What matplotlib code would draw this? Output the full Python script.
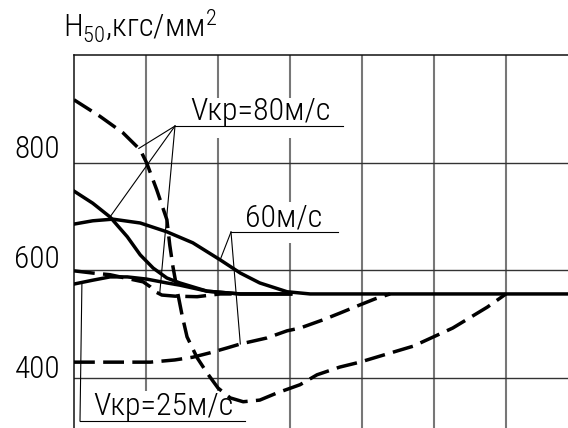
import numpy as np
import matplotlib
matplotlib.use("Agg")
import matplotlib.pyplot as plt
from matplotlib import font_manager
from matplotlib.patches import Rectangle

# Hardness H50 (kgf/mm^2) along the specimen, x in grid divisions.
# Solid and dashed curves for several critical cooling rates.

# Vkr = 80 m/s, dashed, starting high
dash80_x = [0, 0.36, 0.68, 0.92, 1.01, 1.15, 1.29, 1.33, 1.375, 1.44, 1.5, 1.57,
            1.71, 1.85, 2.0, 2.17, 2.35, 2.58, 2.82, 3.14, 3.375, 3.69, 3.97,
            4.53, 4.71, 5.26, 5.74, 6.0]
dash80_y = [884, 854, 824, 793, 769, 720, 666, 620, 580, 533, 493, 453,
            415, 387, 360, 342, 335, 338, 351, 366, 384, 398, 407,
            429, 436, 469, 507, 531]

# Vkr = 80 m/s, dashed, starting near 575
dash80b_x = [0, 0.26, 0.5, 0.71, 0.96, 1.06, 1.13, 1.22, 1.4, 1.71, 2.03, 2.19]
dash80b_y = [573, 569, 566, 560, 553, 544, 535, 529, 527, 526, 531, 531]

# Vkr = 80 m/s, solid
solid80_x = [0, 0.26, 0.5, 0.74, 0.92, 1.1, 1.29, 1.47, 1.85, 2.31, 3.01]
solid80_y = [718, 696, 671, 635, 602, 578, 560, 551, 536, 531, 531]

# Vkr = 60 m/s, solid (continues as the common plateau)
solid60_x = [0, 0.26, 0.54, 0.92, 1.29, 1.65, 2.03, 2.31, 2.58, 2.96, 3.28, 6.86]
solid60_y = [658, 664, 667, 660, 644, 624, 593, 569, 551, 535, 531, 531]

# Vkr = 60 m/s, dashed, starting near 400
dash60_x = [0, 1.06, 1.4, 1.65, 1.89, 2.13, 2.31, 2.68, 2.96, 3.14, 3.46, 3.69,
            3.97, 4.18, 4.39]
dash60_y = [407, 407, 411, 416, 424, 433, 440, 451, 464, 469, 484, 496,
            511, 522, 531]

# Vkr = 25 m/s, solid
solid25_x = [0, 0.26, 0.5, 0.74, 1.01, 1.29, 1.47, 1.85, 2.31, 3.01]
solid25_y = [549, 556, 562, 562, 558, 551, 547, 536, 531, 531]

ytick_vals = [400, 600, 800]
ytick_labels = ["400", "600", "800"]
ygrid_vals = [378, 574, 770]
xgrid_vals = [1, 2, 3, 4, 5, 6]

# narrow, thin sans face for the drafting-style lettering
fonts = font_manager.fontManager.ttflist
names = {f.name for f in fonts}
face = next((n for n in ["Roboto Condensed", "PT Sans Narrow", "Fira Sans Condensed",
                         "Ubuntu Condensed", "Liberation Sans Narrow", "Roboto",
                         "Liberation Sans", "DejaVu Sans"] if n in names), "DejaVu Sans")
has_light = any(f.name == face and int(f.weight) <= 300 for f in fonts
                if str(f.weight).isdigit())
weight = "light" if has_light else "normal"
plt.rcParams["font.family"] = [face, "DejaVu Sans"]
plt.rcParams["font.weight"] = weight
plt.rcParams["mathtext.fontset"] = "custom"
plt.rcParams["mathtext.rm"] = f"{face}:{weight}"
plt.rcParams["mathtext.it"] = f"{face}:{weight}"
plt.rcParams["mathtext.default"] = "rm"

W, H = 568, 428
fig = plt.figure(figsize=(W / 100, H / 100), dpi=100)
ax = fig.add_axes([74 / W, 0, 494 / W, 373 / H])

y_per_px = 200 / 110
ax.set_xlim(0, 494 / 72)
ax.set_ylim(800 - (428 - 146) * y_per_px, 800 + (146 - 55) * y_per_px)

for s in ("right", "bottom"):
    ax.spines[s].set_visible(False)
for s in ("top", "left"):
    ax.spines[s].set_linewidth(1.1)
    ax.spines[s].set_color("#111111")

ax.set_xticks(xgrid_vals)
ax.set_xticklabels([])
ax.set_yticks(ytick_vals)
ax.set_yticklabels(ytick_labels, fontsize=22.5)
ax.set_yticks(ygrid_vals, minor=True)
ax.tick_params(axis="both", which="both", length=0)
ax.tick_params(axis="y", pad=10)
ax.set_axisbelow(True)
ax.xaxis.grid(True, which="major", color="#777777", linewidth=1.5)
ax.yaxis.grid(True, which="minor", color="#333333", linewidth=1.0)
ax.yaxis.grid(False, which="major")


def px_y(py):
    return 800 - (py - 146) * y_per_px


def px_x(px):
    return (px - 74) / 72


# white patches clearing the grid behind the labels
for (x0, x1, y0, y1) in [(186, 338, 98, 138), (240, 336, 202, 243), (88, 238, 391, 440)]:
    ax.add_patch(Rectangle((px_x(x0), px_y(y1)), px_x(x1) - px_x(x0), px_y(y0) - px_y(y1),
                           facecolor="white", edgecolor="none", zorder=1))

lw = 2.5
dash = (0, (6.0, 2.4))
ax.plot(dash80_x, dash80_y, color="black", lw=lw, ls=dash, zorder=3)
ax.plot(dash80b_x, dash80b_y, color="black", lw=lw, ls=dash, zorder=3)
ax.plot(dash60_x, dash60_y, color="black", lw=lw, ls=dash, zorder=3)
ax.plot(solid80_x, solid80_y, color="black", lw=lw, zorder=3, solid_joinstyle="round")
ax.plot(solid60_x, solid60_y, color="black", lw=lw, zorder=3, solid_joinstyle="round")
ax.plot(solid25_x, solid25_y, color="black", lw=lw, zorder=3, solid_joinstyle="round")


def leader(anchor, xs, ys, xt):
    yt = np.interp(xt, xs, ys)
    ax.plot([anchor[0], xt], [anchor[1], yt], color="black", lw=0.8, zorder=2)


def label(text, anchor, x_end, x_text, y_text):
    ax.plot([anchor[0], x_end], [anchor[1], anchor[1]], color="black", lw=0.8, zorder=2)
    ax.text(x_text, y_text, text, fontsize=23, ha="left", va="baseline", zorder=4)


# Vkr = 80 m/s
a80 = (px_x(175), px_y(126))
label("Vкр=80м/с", a80, px_x(343), px_x(190), px_y(120))
leader(a80, dash80_x, dash80_y, 0.90)
leader(a80, solid80_x, solid80_y, 0.50)
leader(a80, dash80b_x, dash80b_y, 1.19)

# 60 m/s
a60 = (px_x(231), px_y(232))
label("60м/с", a60, px_x(338), px_x(245), px_y(226))
leader(a60, solid60_x, solid60_y, 2.03)
leader(a60, dash60_x, dash60_y, 2.31)

# Vkr = 25 m/s
a25 = (px_x(80), px_y(421))
label("Vкр=25м/с", a25, px_x(245), px_x(93), px_y(415))
leader(a25, solid25_x, solid25_y, 0.11)

fig.text(63 / W, 1 - 37 / H, r"H$_{50}$,кгс/мм$^{2}$", fontsize=23,
         ha="left", va="baseline")

fig.savefig("out.png", dpi=100, facecolor="white")
